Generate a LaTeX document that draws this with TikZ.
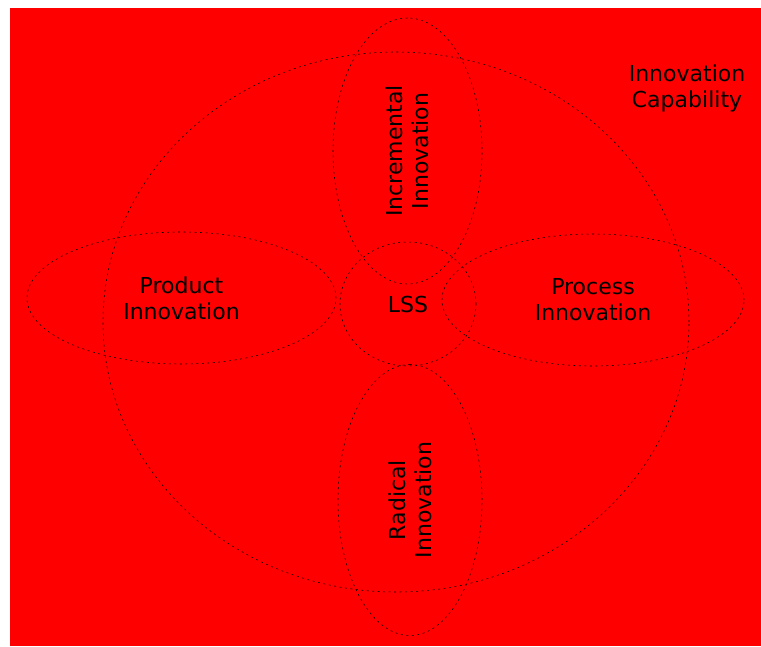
\documentclass[tikz,border=0pt]{standalone}
\usepackage{fontspec}
\setmainfont{DejaVu Sans}
\usetikzlibrary{shapes.geometric}
\begin{document}
\begin{tikzpicture}[x=1pt,y=-1pt,
  ring/.style={ellipse, draw=black, line width=0.55pt, dash pattern=on 2pt off 3.5pt, inner sep=0pt},
  lbl/.style={font=\fontsize{22}{26}\selectfont, text=black, align=center}]
\fill[white] (0,0) rectangle (761,646);
\fill[red] (10,8) rectangle (761,646);
\useasboundingbox (0,0) rectangle (761,646);
\node[ring, minimum width=586pt, minimum height=540pt] (cap) at (396,322) {};
\node[ring, lbl, minimum width=309pt, minimum height=132pt] (prod) at (181.5,298) {Product\\Innovation};
\node[ring, lbl, minimum width=302pt, minimum height=132pt] (proc) at (593,300) {Process\\Innovation};
\node[ring, lbl, rotate=90, minimum width=266pt, minimum height=149pt] (incr) at (407.5,151) {Incremental\\Innovation};
\node[ring, lbl, rotate=90, minimum width=271pt, minimum height=144pt] (rad) at (410,500) {Radical\\Innovation};
\node[ring, lbl, minimum width=136pt, minimum height=124pt] (lss) at (408,304) {LSS};
\node[lbl, inner sep=0pt] (caplbl) at (687,88) {Innovation\\Capability};
\end{tikzpicture}
\end{document}
